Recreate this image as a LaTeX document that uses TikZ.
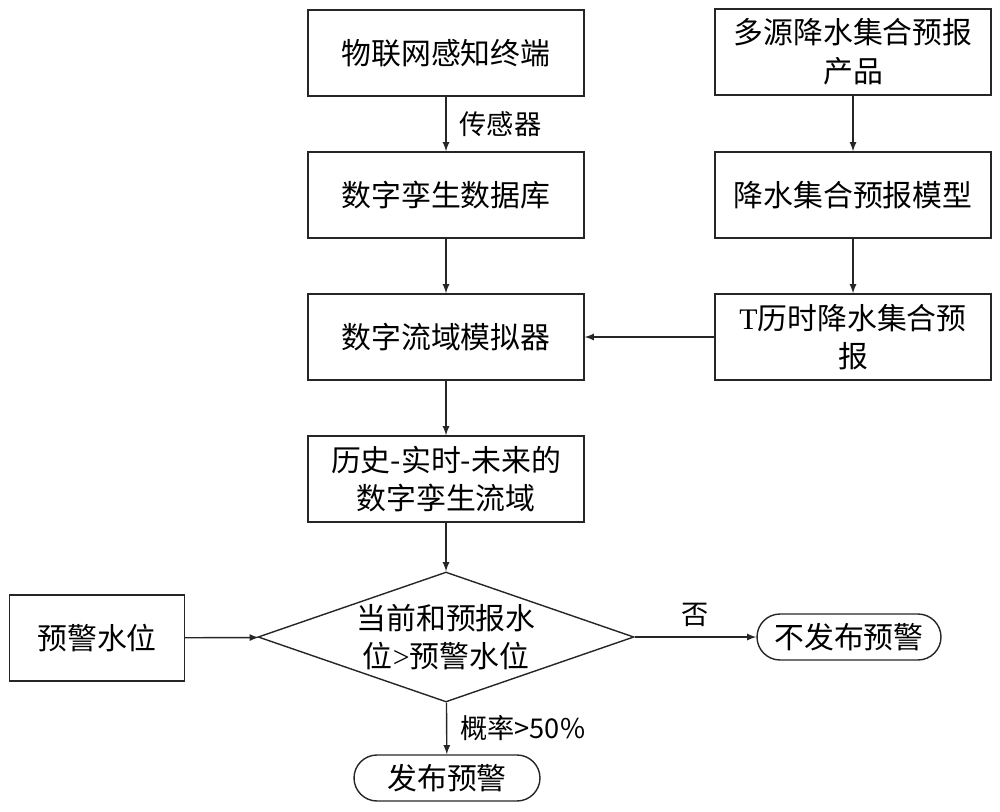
\documentclass[tikz,border=0pt]{standalone}
\usepackage{fontspec}
\setmainfont{Noto Sans CJK SC}
\newfontfamily\latinfont{Liberation Serif}
\usepackage{tikz}
\usetikzlibrary{shapes.geometric}

\begin{document}
\begin{tikzpicture}[x=0.02cm, y=-0.02cm, >=latex, auto,
            every node/.style={font=\fontsize{17}{22}\selectfont}]
            \tikzstyle{boxStyle} = [rectangle, draw=black!85, line width=0.8pt,
                minimum width=5.52cm, minimum height=1.72cm, align=center, inner sep=2pt]
            \tikzstyle{endStyle} = [rectangle, draw=black!85, line width=0.8pt,
                rounded corners=0.46cm, minimum height=0.92cm, align=center]
            \tikzstyle{decisionStyle} = [diamond, draw=black!85, line width=0.8pt,
                aspect=2.9, inner sep=0pt, minimum width=7.52cm, minimum height=2.6cm, align=center]
            \tikzstyle{arrowEdge} = [draw=black!85, line width=0.8pt, ->]
            \tikzstyle{edgeLabel} = [font=\fontsize{15.5}{18}\selectfont]
            \useasboundingbox (0,0) rectangle (1000,811);
            \node[boxStyle] (iot)   at (446,53)  {物联网感知终端};
            \node[boxStyle] (db)    at (446,195) {数字孪生数据库};
            \node[boxStyle] (sim)   at (446,337) {数字流域模拟器};
            \node[boxStyle] (basin) at (446,479) {历史-实时-未来的\\数字孪生流域};
            \node[boxStyle] (src)   at (853,52)  {多源降水集合预报\\产品};
            \node[boxStyle] (model) at (853,195) {降水集合预报模型};
            \node[boxStyle] (rain)  at (853,337) {{\latinfont T}历时降水集合预\\报};
            \node[boxStyle, minimum width=3.5cm] (level) at (97,638) {预警水位};
            \node[decisionStyle] (check) at (446,637) {当前和预报水\\位{\latinfont >}预警水位};
            \node[endStyle, minimum width=3.68cm] (nowarn) at (849,637) {不发布预警};
            \node[endStyle, minimum width=3.72cm] (warn)   at (447,778) {发布预警};
            \foreach \from/\to in {db/sim, sim/basin, basin/check, src/model,
                                model/rain, rain/sim, level/check}
                \path[arrowEdge] (\from) -- (\to);
            \path[arrowEdge] (iot) -- node[edgeLabel, right=4pt] {传感器} (db);
            \path[arrowEdge] (check) -- node[edgeLabel, above=2pt] {否} (nowarn);
            \path[arrowEdge] (check) -- node[edgeLabel, right=4pt] {概率>50\%} (warn);
        \end{tikzpicture}
\end{document}
